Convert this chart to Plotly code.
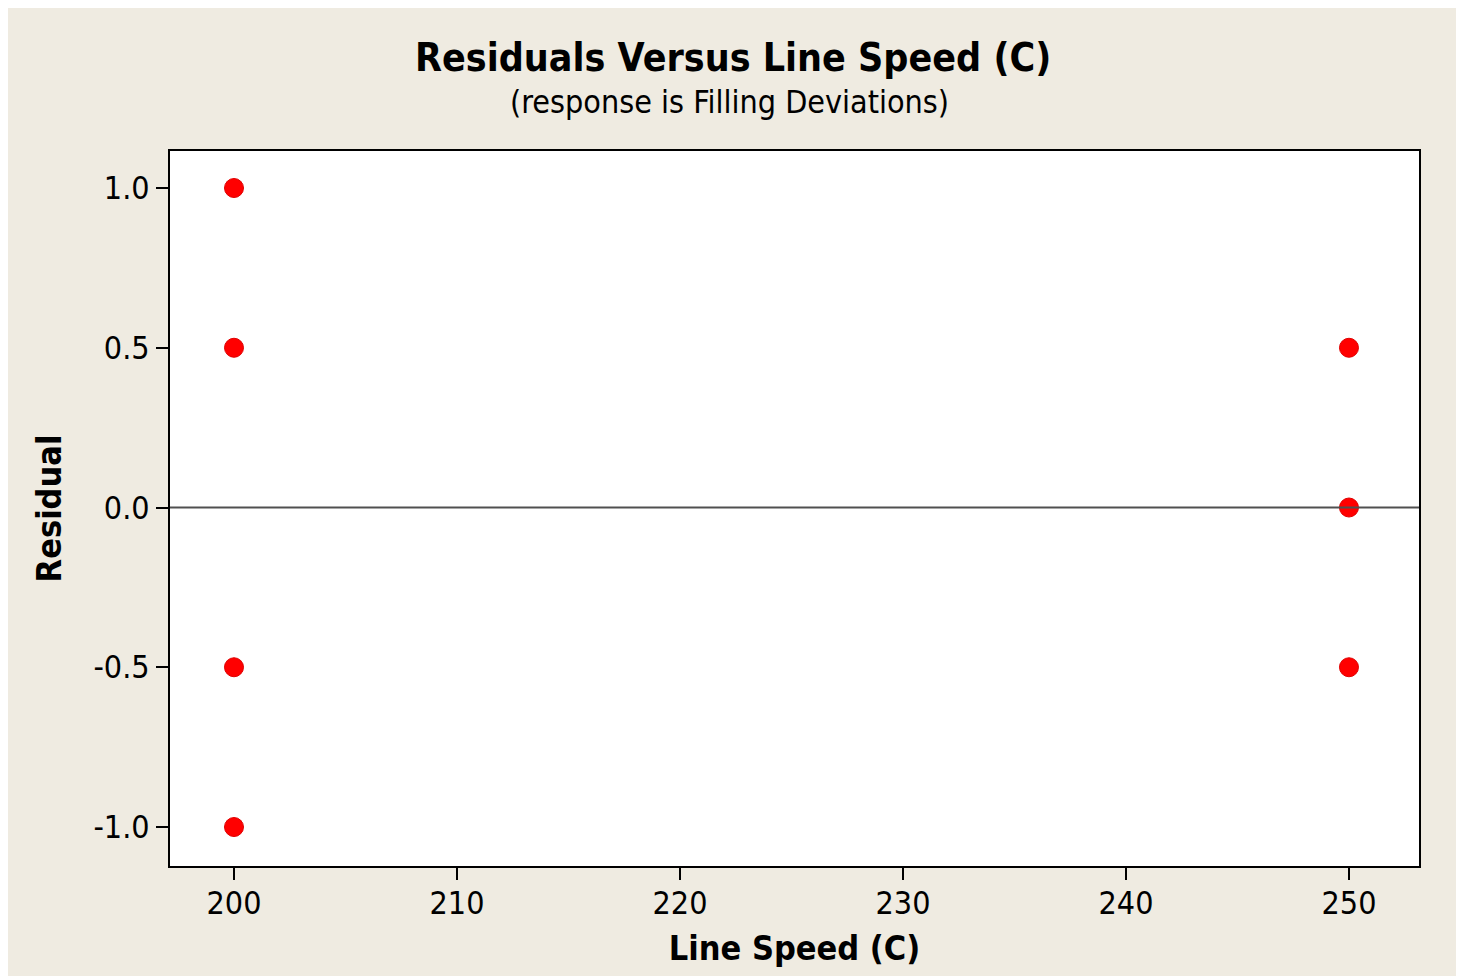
import plotly.graph_objects as go

line_speed = [200, 200, 200, 200, 250, 250, 250]
residuals = [1.0, 0.5, -0.5, -1.0, 0.5, 0.0, -0.5]
x_ticks = [200, 210, 220, 230, 240, 250]
y_ticks = [-1.0, -0.5, 0.0, 0.5, 1.0]
y_tick_text = ["-1.0", "-0.5", "0.0", "0.5", "1.0"]

BG = "#EFEBE1"
FONT = "DejaVu Sans Condensed, Noto Sans, sans-serif"

W, H = 1464, 976
ML, MR, MT, MB = 162, 53, 143, 118

fig = go.Figure()
fig.add_trace(go.Scatter(
    x=line_speed, y=residuals, mode="markers",
    marker=dict(color="#FF0000", size=19, line=dict(color="#E00000", width=1)),
    showlegend=False,
))

fig.add_hline(y=0, line=dict(color="#505050", width=2))

plot_h = H - MT - MB
plot_w = W - ML - MR

fig.update_layout(
    width=W, height=H,
    paper_bgcolor=BG, plot_bgcolor="white",
    margin=dict(l=ML, r=MR, t=MT, b=MB),
    font=dict(family=FONT, color="black", size=32),
    xaxis=dict(
        range=[197.13, 253.14], tickvals=x_ticks,
        ticks="outside", ticklen=12, tickwidth=2, tickcolor="black",
        showline=True, linecolor="black", linewidth=2, mirror=True,
        showgrid=False, zeroline=False, ticklabelstandoff=-4,
        tickfont=dict(size=32, family=FONT),
        title=dict(text="<b>Line Speed (C)</b>", font=dict(size=34, family=FONT), standoff=15),
    ),
    yaxis=dict(
        range=[-1.122, 1.1158], tickvals=y_ticks, ticktext=y_tick_text,
        ticks="outside", ticklen=12, tickwidth=2, tickcolor="black",
        showline=True, linecolor="black", linewidth=2, mirror=True,
        showgrid=False, zeroline=False,
        tickfont=dict(size=32, family=FONT),
        title=dict(text="<b>Residual</b>", font=dict(size=34, family=FONT), standoff=22),
    ),
    annotations=[
        dict(text="<b>Residuals Versus Line Speed (C)</b>", xref="paper", yref="paper",
             x=(733 - 8 - ML) / plot_w, y=1 + (151 - 58) / plot_h, yanchor="middle",
             showarrow=False, font=dict(size=39, family=FONT)),
        dict(text="(response is Filling Deviations)", xref="paper", yref="paper",
             x=(729 - 8 - ML) / plot_w, y=1 + (151 - 102) / plot_h, yanchor="middle",
             showarrow=False, font=dict(size=32, family=FONT)),
    ],
)

fig.write_html("out.html")
